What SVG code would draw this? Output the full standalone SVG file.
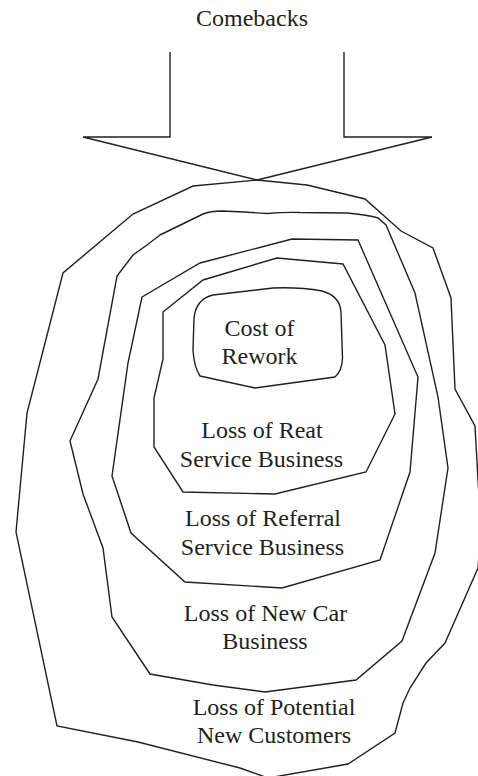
<svg xmlns="http://www.w3.org/2000/svg" width="478" height="776" viewBox="0 0 478 776">
  <style>
    .ring { fill: none; stroke: #231f20; stroke-width: 1.4; stroke-linejoin: miter; }
    .flow { fill: none; stroke: #231f20; stroke-width: 1.4; }
    .label { font-family: "Liberation Serif", "Times New Roman", serif; font-size: 24px; fill: #231f20; text-anchor: middle; }
  </style>
  <rect width="478" height="776" fill="#ffffff"/>

  <!-- Title above the inflow arrow -->
  <g id="comebacks">
    <text class="label" x="252" y="26">Comebacks</text>
  </g>

  <!-- Arrow shafts and heads feeding into the outer ring -->
  <g id="connectors">
    <polyline class="flow" points="170,52 170,137 83,137 257,180"/>
    <polyline class="flow" points="344,52 344,137 432,137 257,180"/>
  </g>

  <!-- Outer ring -->
  <g id="potential-customers">
    <polygon class="ring" points="257,180 307,185 365,199 401,231 433,248 451,298 455,389 475,426 478,480 481,530 478,568 445,643 426,663 410,688 403,703 395,733 348,764 268,778 240,768 138,742 57,726 16,532 27,413 63,273 108,235 133,214 193,186"/>
    <text class="label" x="274" y="715">Loss of Potential</text>
    <text class="label" x="274" y="743">New Customers</text>
  </g>

  <!-- Second ring -->
  <g id="new-car-business">
    <path class="ring" d="M160,235 L203,214 Q210,211 222,211 Q245,212 267,213.5 Q285,212 300,212.5 L347,213 Q368,215 378,218 L386,225 L415,293 L438,397 L448,468 L435,553 L402,641 L356,680 L265,692 L213,685 L150,674 L112,617 L103,548 L83,494 L70,441 L98,379 L117,276 L133,255 L147,245 Z"/>
    <text class="label" x="265.5" y="621">Loss of New Car</text>
    <text class="label" x="265" y="649">Business</text>
  </g>

  <!-- Third ring -->
  <g id="referral-service">
    <polygon class="ring" points="142,297 200,263 292,239 358,240 418,377 410,472 380,560 282,588 185,582 131,533 112,476 128,363"/>
    <text class="label" x="263" y="526">Loss of Referral</text>
    <text class="label" x="262.5" y="555">Service Business</text>
  </g>

  <!-- Fourth ring -->
  <g id="repeat-service">
    <polygon class="ring" points="163,312 203,280 277,258 343,264 385,345 395,414 366,472 275,494 183,492 154,447 154,398 163,359"/>
    <text class="label" x="262" y="438">Loss of Reat</text>
    <text class="label" x="261.5" y="467">Service Business</text>
  </g>

  <!-- Innermost core -->
  <g id="cost-of-rework">
    <path class="ring" d="M200,376 L255,388 L335,377 Q342,371 342.5,358 L341,312 Q340,296 322,291 Q300,287 273,288 L213,295 Q196,299 194,318 L193,350 Q194,367 200,376 Z"/>
    <text class="label" x="259.5" y="336">Cost of</text>
    <text class="label" x="259.5" y="364">Rework</text>
  </g>
</svg>
